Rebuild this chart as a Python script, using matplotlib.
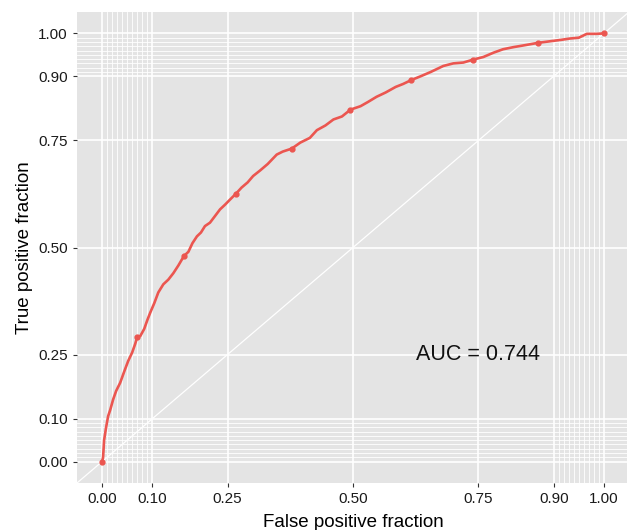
import numpy as np
import matplotlib.pyplot as plt

plt.rcParams['font.family'] = ['Liberation Sans', 'DejaVu Sans']

# ROC curve
fpf = [0.0, 0.002, 0.004, 0.008, 0.012, 0.016, 0.022, 0.028, 0.036, 0.044, 0.052,
       0.060, 0.066, 0.070, 0.076, 0.084, 0.090, 0.096, 0.104, 0.112, 0.122,
       0.132, 0.142, 0.152, 0.159, 0.164, 0.172, 0.180, 0.189, 0.197, 0.205,
       0.215, 0.226, 0.235, 0.245, 0.255, 0.267, 0.278, 0.290, 0.301, 0.315,
       0.330, 0.348, 0.360, 0.378, 0.395, 0.414, 0.428, 0.445, 0.461, 0.478,
       0.495, 0.515, 0.530, 0.547, 0.565, 0.585, 0.600, 0.616, 0.635, 0.655,
       0.680, 0.700, 0.720, 0.740, 0.760, 0.780, 0.799, 0.820, 0.845, 0.869,
       0.895, 0.915, 0.932, 0.950, 0.966, 0.985, 1.0]
tpf = [0.0, 0.01, 0.05, 0.08, 0.106, 0.12, 0.145, 0.165, 0.184, 0.21, 0.235,
       0.255, 0.275, 0.291, 0.293, 0.31, 0.33, 0.348, 0.37, 0.395, 0.414,
       0.425, 0.44, 0.458, 0.472, 0.481, 0.49, 0.51, 0.526, 0.535, 0.55,
       0.558, 0.575, 0.589, 0.60, 0.612, 0.626, 0.64, 0.652, 0.667, 0.68,
       0.695, 0.717, 0.724, 0.731, 0.745, 0.756, 0.774, 0.785, 0.799, 0.806,
       0.822, 0.83, 0.84, 0.852, 0.862, 0.875, 0.882, 0.891, 0.90, 0.91,
       0.924, 0.93, 0.932, 0.939, 0.945, 0.955, 0.963, 0.968, 0.973, 0.978,
       0.982, 0.985, 0.988, 0.99, 0.999, 0.999, 1.0]

# cutoff markers
cut_x = [0.0, 0.070, 0.164, 0.267, 0.378, 0.495, 0.616, 0.740, 0.869, 1.0]
cut_y = [0.0, 0.291, 0.481, 0.626, 0.731, 0.822, 0.891, 0.939, 0.978, 1.0]

breaks = [0, 0.1, 0.25, 0.5, 0.75, 0.9, 1.0]
break_labels = ['0.00', '0.10', '0.25', '0.50', '0.75', '0.90', '1.00']
minor = list(np.arange(0.01, 0.1, 0.01)) + list(np.arange(0.91, 1.0, 0.01))

red = '#EB5650'

fig = plt.figure(figsize=(6.27, 5.30), dpi=100)
ax = fig.add_axes([77 / 627, 47 / 530, 552 / 627, 471 / 530])
ax.set_facecolor('#E4E4E4')

for m in minor:
    ax.axvline(m, color='white', lw=0.6, zorder=1)
    ax.axhline(m, color='white', lw=0.6, zorder=1)
for b in breaks:
    ax.axvline(b, color='white', lw=1.2, zorder=1)
    ax.axhline(b, color='white', lw=1.2, zorder=1)

ax.plot([-0.05, 1.05], [-0.05, 1.05], color='white', lw=0.9, zorder=2)

ax.plot(fpf, tpf, color=red, lw=1.9, zorder=3, solid_joinstyle='round')
ax.plot(cut_x, cut_y, 'o', color=red, ms=3.5, zorder=4)

ax.text(0.75, 0.25, 'AUC = 0.744', fontsize=15.5, ha='center', va='center', color='#111111')

ax.set_xlim(-0.05, 1.05)
ax.set_ylim(-0.05, 1.05)
ax.set_xticks(breaks)
ax.set_xticklabels(break_labels)
ax.set_yticks(breaks)
ax.set_yticklabels(break_labels)
ax.tick_params(length=3, width=0.8, color='#333333', labelsize=11, labelcolor='#1a1a1a')
ax.set_xlabel('False positive fraction', fontsize=13.5, labelpad=6)
ax.set_ylabel('True positive fraction', fontsize=13.5, labelpad=4)
for s in ax.spines.values():
    s.set_visible(False)

fig.savefig('out.png', dpi=100)
